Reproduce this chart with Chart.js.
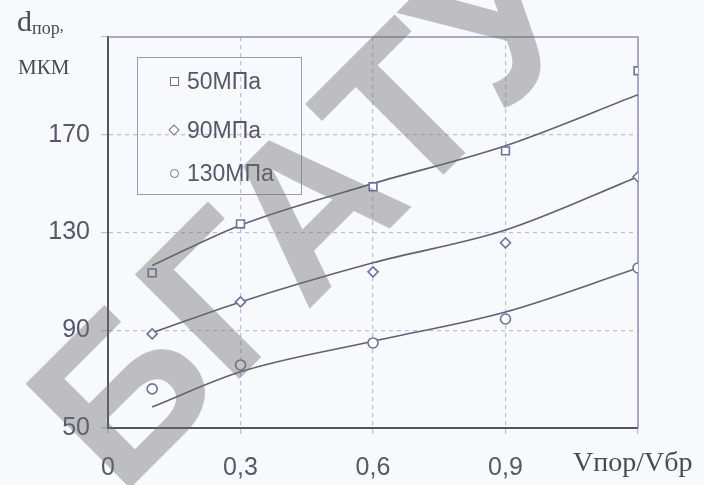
<!DOCTYPE html>
<html>
<head>
<meta charset="utf-8">
<script src="https://cdn.jsdelivr.net/npm/chart.js@4"></script>
<style>
  html, body { margin: 0; padding: 0; background: #f8f9fd; }
  #wrap { position: relative; width: 704px; height: 485px; overflow: hidden; }
  #wrap canvas { position: absolute; left: 0; top: 0; }
  .ytitle { position: absolute; left: 17px; top: 4px; font-family: "Liberation Serif", serif; color: #4a4a55; white-space: nowrap; }
  .ytitle .d { font-size: 30px; }
  .ytitle sub { font-size: 18px; vertical-align: -3px; }
  .yunit { position: absolute; left: 18px; top: 55px; font-family: "Liberation Serif", serif; font-size: 21px; color: #4a4a55; text-transform: uppercase; }
  .xtitle { position: absolute; left: 573px; top: 446px; font-family: "Liberation Serif", serif; font-size: 28px; color: #4a4a55; white-space: nowrap; }
  .legend { position: absolute; left: 137px; top: 57px; width: 165px; height: 138px; border: 1px solid #9a9caa; box-sizing: border-box; font-family: "Liberation Sans", sans-serif; font-size: 23px; color: #55586a; }
  .legend div { position: absolute; left: 49px; line-height: 26px; }
  .legend span.m { position: absolute; left: -17px; top: 9px; width: 7px; height: 7px; border: 1.5px solid #6b71a0; background: #fff; }
  .wm { position: absolute; left: 305px; top: 208px; font-family: "Liberation Sans", sans-serif; font-weight: bold; font-size: 215px; line-height: 1; color: rgba(110,110,110,0.42); white-space: nowrap; transform: translate(-50%, -50%) rotate(-45deg); pointer-events: none; }
</style>
</head>
<body>
<div id="wrap">
  <canvas id="lineChart" width="704" height="485"></canvas>
  <div class="ytitle"><span class="d">d</span><sub>пор</sub>,</div>
  <div class="yunit">мкм</div>
  <div class="xtitle">Vпор/Vбр</div>
  <div class="legend">
    <div style="top:10px"><span class="m"></span>50МПа</div>
    <div style="top:59px"><span class="m" style="transform:rotate(45deg);width:6px;height:6px"></span>90МПа</div>
    <div style="top:102px"><span class="m" style="border-radius:50%"></span>130МПа</div>
  </div>
  <div class="wm">БГАТУ</div>
</div>
<script>
// x values (Vпор/Vбр)
const xVals = [0.1, 0.3, 0.6, 0.9, 1.2];

// measured points, мкм
const p50 = [113.5, 133.5, 148.7, 163.4, 196.2];
const p90 = [88.5, 101.6, 113.9, 125.8, 152.8];
const p130 = [66, 75.8, 84.8, 94.6, 115.5];

// approximation curves
const fit50 = [116.5, 133, 150, 165.5, 186.4];
const fit90 = [89, 101.6, 117.6, 131, 152.8];
const fit130 = [58.6, 73, 85.5, 97.5, 115.5];

const yTicks = [50, 90, 130, 170, 210];
const xTicks = [0, 0.3, 0.6, 0.9, 1.2];

const markColor = '#6b71a0';
const lineColor = '#5d6175';
const gridColor = '#b9bdd6';

function pts (vals) {
  return xVals.map((x, i) => ({ x: x, y: vals[i] }));
}

function markSet (label, vals, style, r) {
  return {
    label: label,
    data: pts(vals),
    showLine: false,
    pointStyle: style,
    pointRadius: r,
    pointBorderColor: markColor,
    pointBackgroundColor: '#ffffff',
    pointBorderWidth: 1.6,
    order: 0
  };
}

function fitSet (vals) {
  return {
    label: '',
    data: pts(vals),
    showLine: true,
    borderColor: lineColor,
    borderWidth: 1.6,
    pointRadius: 0,
    cubicInterpolationMode: 'monotone',
    fill: false,
    order: 1
  };
}

// frame on top and right side
const framePlugin = {
  id: 'frame',
  beforeDatasetsDraw (chart) {
    const { ctx, chartArea: a } = chart;
    ctx.save();
    ctx.strokeStyle = '#8a90b4';
    ctx.lineWidth = 1.5;
    ctx.beginPath();
    ctx.moveTo(a.left, a.top);
    ctx.lineTo(a.right, a.top);
    ctx.lineTo(a.right, a.bottom);
    ctx.stroke();
    ctx.restore();
  }
};

const ctx = document.getElementById('lineChart').getContext('2d');
window.myLineChart = new Chart(ctx, {
  type: 'scatter',
  data: {
    datasets: [
      markSet('50МПа', p50, 'rect', 5.5),
      markSet('90МПа', p90, 'rectRot', 5),
      markSet('130МПа', p130, 'circle', 5),
      fitSet(fit50),
      fitSet(fit90),
      fitSet(fit130)
    ]
  },
  options: {
    responsive: false,
    animation: false,
    layout: { padding: { top: 37, right: 66, left: 0, bottom: 0 } },
    plugins: {
      legend: { display: false },
      tooltip: { enabled: false }
    },
    scales: {
      x: {
        type: 'linear',
        min: 0,
        max: 1.2,
        afterBuildTicks: (s) => { s.ticks = xTicks.map(v => ({ value: v })); },
        afterFit: (s) => { s.height = 57; },
        ticks: {
          padding: 19,
          color: '#55586a',
          font: { family: 'Liberation Sans', size: 25 },
          callback: (v) => (v >= 1.2 ? '' : (v === 0 ? '0' : v.toFixed(1).replace('.', ',')))
        },
        grid: {
          color: (c) => (c.tick && (c.tick.value <= 0 || c.tick.value >= 1.2) ? 'rgba(0,0,0,0)' : gridColor),
          lineWidth: 1.2,
          tickLength: 6,
          tickColor: gridColor
        },
        border: { display: true, color: '#555560', width: 2, dash: [4, 4] }
      },
      y: {
        min: 50,
        max: 210,
        afterBuildTicks: (s) => { s.ticks = yTicks.map(v => ({ value: v })); },
        afterFit: (s) => { s.width = 108; },
        ticks: {
          padding: 11,
          color: '#55586a',
          font: { family: 'Liberation Sans', size: 25 },
          callback: (v) => (v >= 210 ? '' : String(v))
        },
        grid: {
          color: (c) => (c.tick && (c.tick.value <= 50 || c.tick.value >= 210) ? 'rgba(0,0,0,0)' : gridColor),
          lineWidth: 1.2,
          tickLength: 7,
          tickColor: gridColor
        },
        border: { display: true, color: '#555560', width: 2, dash: [4, 4] }
      }
    }
  },
  plugins: [framePlugin]
});
</script>
</body>
</html>
